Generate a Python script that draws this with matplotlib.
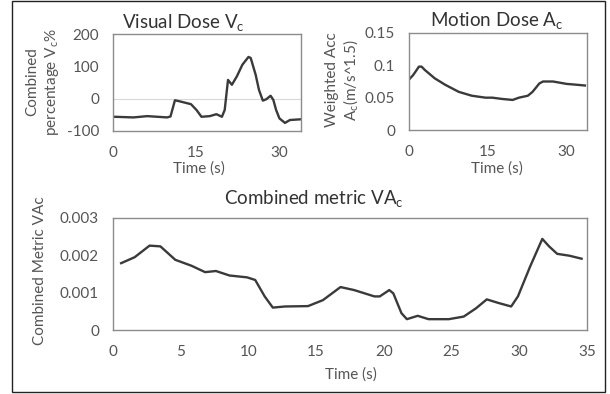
import matplotlib
matplotlib.use("Agg")
import matplotlib.pyplot as plt
from matplotlib.patches import Rectangle

plt.rcParams["font.family"] = ["Lato", "DejaVu Sans"]
plt.rcParams["mathtext.fontset"] = "custom"
plt.rcParams["mathtext.rm"] = "Lato"
plt.rcParams["axes.unicode_minus"] = False

# ── data ────────────────────────────────────────────────────────────────────
vis_t = [0.3, 3.7, 6.2, 8.0, 9.8, 10.4, 11.2, 12.0, 14.1, 15.1, 16.0, 17.5,
         18.7, 19.7, 20.2, 20.8, 21.5, 22.4, 23.4, 24.5, 24.9, 25.8, 26.4,
         27.1, 27.7, 28.5, 29.0, 29.5, 30.1, 31.1, 32.0, 33.8]
vis_v = [-56, -58, -54, -56, -58, -55, -5, -8, -17, -35, -56, -54,
         -48, -56, -35, 58, 43, 69, 105, 129, 126, 74, 27,
         -6, -2, 9, -4, -35, -61, -75, -66, -64]

mot_t = [0.0, 0.8, 1.9, 2.4, 3.0, 4.9, 6.9, 9.5, 12.0, 14.6, 15.9, 17.8,
         19.8, 21.0, 22.7, 23.6, 24.9, 25.6, 27.5, 30.1, 32.0, 33.6]
mot_v = [0.078, 0.085, 0.098, 0.098, 0.093, 0.080, 0.070, 0.059, 0.053,
         0.050, 0.050, 0.048, 0.0465, 0.050, 0.053, 0.059, 0.072, 0.075,
         0.075, 0.0713, 0.070, 0.0688]

va_t = [0.6, 1.6, 2.7, 3.5, 4.6, 5.8, 6.8, 7.6, 8.6, 9.9, 10.5, 11.2, 11.8,
        12.7, 14.4, 15.5, 16.8, 17.8, 19.3, 19.7, 20.4, 20.7, 21.3, 21.7,
        22.5, 23.3, 24.8, 25.9, 26.8, 27.6, 28.5, 29.4, 29.9, 30.8, 31.7,
        32.2, 32.8, 33.7, 34.6]
va_v = [0.00179, 0.00195, 0.00226, 0.00224, 0.00188, 0.00172, 0.00155,
        0.00158, 0.00146, 0.00141, 0.00134, 0.00090, 0.00060, 0.00063,
        0.00064, 0.00080, 0.00115, 0.00107, 0.00090, 0.00090, 0.00107,
        0.00098, 0.00045, 0.00029, 0.00038, 0.00029, 0.00029, 0.00036,
        0.00058, 0.00082, 0.00072, 0.00063, 0.00090, 0.00170, 0.00244,
        0.00224, 0.00204, 0.00199, 0.00191]

LINE = "#3a3a3a"
FRAME = "#8c8c8c"
TXT = "#555555"
W, H = 610, 394


def box(l, t, r, b):
    return [l / W, 1 - b / H, (r - l) / W, (b - t) / H]


def style(ax):
    for s in ax.spines.values():
        s.set_color(FRAME)
        s.set_linewidth(1.0)
    ax.tick_params(length=0, labelsize=11, colors=TXT)
    ax.tick_params(axis="x", pad=11)
    ax.tick_params(axis="y", pad=10)


fig = plt.figure(figsize=(W / 100, H / 100), dpi=100)
fig.add_artist(Rectangle((12 / W, 1 - 392 / H), 593 / W, 391 / H,
                         transform=fig.transFigure, fill=False,
                         edgecolor="#222222", linewidth=1.0))

# ── top-left: visual dose ───────────────────────────────────────────────────
ax1 = fig.add_axes(box(113, 34, 301, 131))
ax1.axhline(0, color="#d9d9d9", linewidth=0.8)
ax1.plot(vis_t, vis_v, color=LINE, linewidth=1.7)
ax1.set_xlim(0, 34)
ax1.set_ylim(-100, 200)
ax1.set_xticks([0, 15, 30])
ax1.set_yticks([-100, 0, 100, 200])
style(ax1)
fig.text(183 / W, 1 - 23 / H, r"Visual Dose V$_\mathregular{c}$",
         ha="center", va="center", fontsize=13.5, color="#333333")
fig.text(199 / W, 1 - 169 / H, "Time (s)", ha="center", va="center",
         fontsize=11, color=TXT)
fig.text(43 / W, 1 - 82 / H, "Combined\npercentage V$_\\mathregular{c}$%",
         ha="center", va="center", rotation=90, fontsize=11, color=TXT,
         linespacing=1.3)

# ── top-right: motion dose ──────────────────────────────────────────────────
ax2 = fig.add_axes(box(409, 33, 587, 130))
ax2.plot(mot_t, mot_v, color=LINE, linewidth=1.7)
ax2.set_xlim(0, 34)
ax2.set_ylim(0, 0.15)
ax2.set_xticks([0, 15, 30])
ax2.set_yticks([0, 0.05, 0.1, 0.15])
ax2.set_yticklabels(["0", "0.05", "0.1", "0.15"])
style(ax2)
fig.text(497 / W, 1 - 21 / H, r"Motion Dose A$_\mathregular{c}$",
         ha="center", va="center", fontsize=13.5, color="#333333")
fig.text(497 / W, 1 - 169 / H, "Time (s)", ha="center", va="center",
         fontsize=11, color=TXT)
fig.text(343 / W, 1 - 80 / H, "Weighted Acc\nA$_\\mathregular{c}$(m/s^1.5)",
         ha="center", va="center", rotation=90, fontsize=11, color=TXT,
         linespacing=1.15)

# ── bottom: combined metric ────────────────────────────────────────────────
ax3 = fig.add_axes(box(113, 218, 587, 330))
ax3.plot(va_t, va_v, color=LINE, linewidth=1.7)
ax3.set_xlim(0, 35)
ax3.set_ylim(0, 0.003)
ax3.set_xticks(range(0, 36, 5))
ax3.set_yticks([0, 0.001, 0.002, 0.003])
ax3.set_yticklabels(["0", "0.001", "0.002", "0.003"])
style(ax3)
fig.text(314 / W, 1 - 199 / H, r"Combined metric VA$_\mathregular{c}$",
         ha="center", va="center", fontsize=13.5, color="#333333")
fig.text(351 / W, 1 - 375 / H, "Time (s)", ha="center", va="center",
         fontsize=11, color=TXT)
fig.text(40 / W, 1 - 271 / H, "Combined Metric VAc", ha="center",
         va="center", rotation=90, fontsize=11, color=TXT)

fig.savefig("out.png", dpi=100)
